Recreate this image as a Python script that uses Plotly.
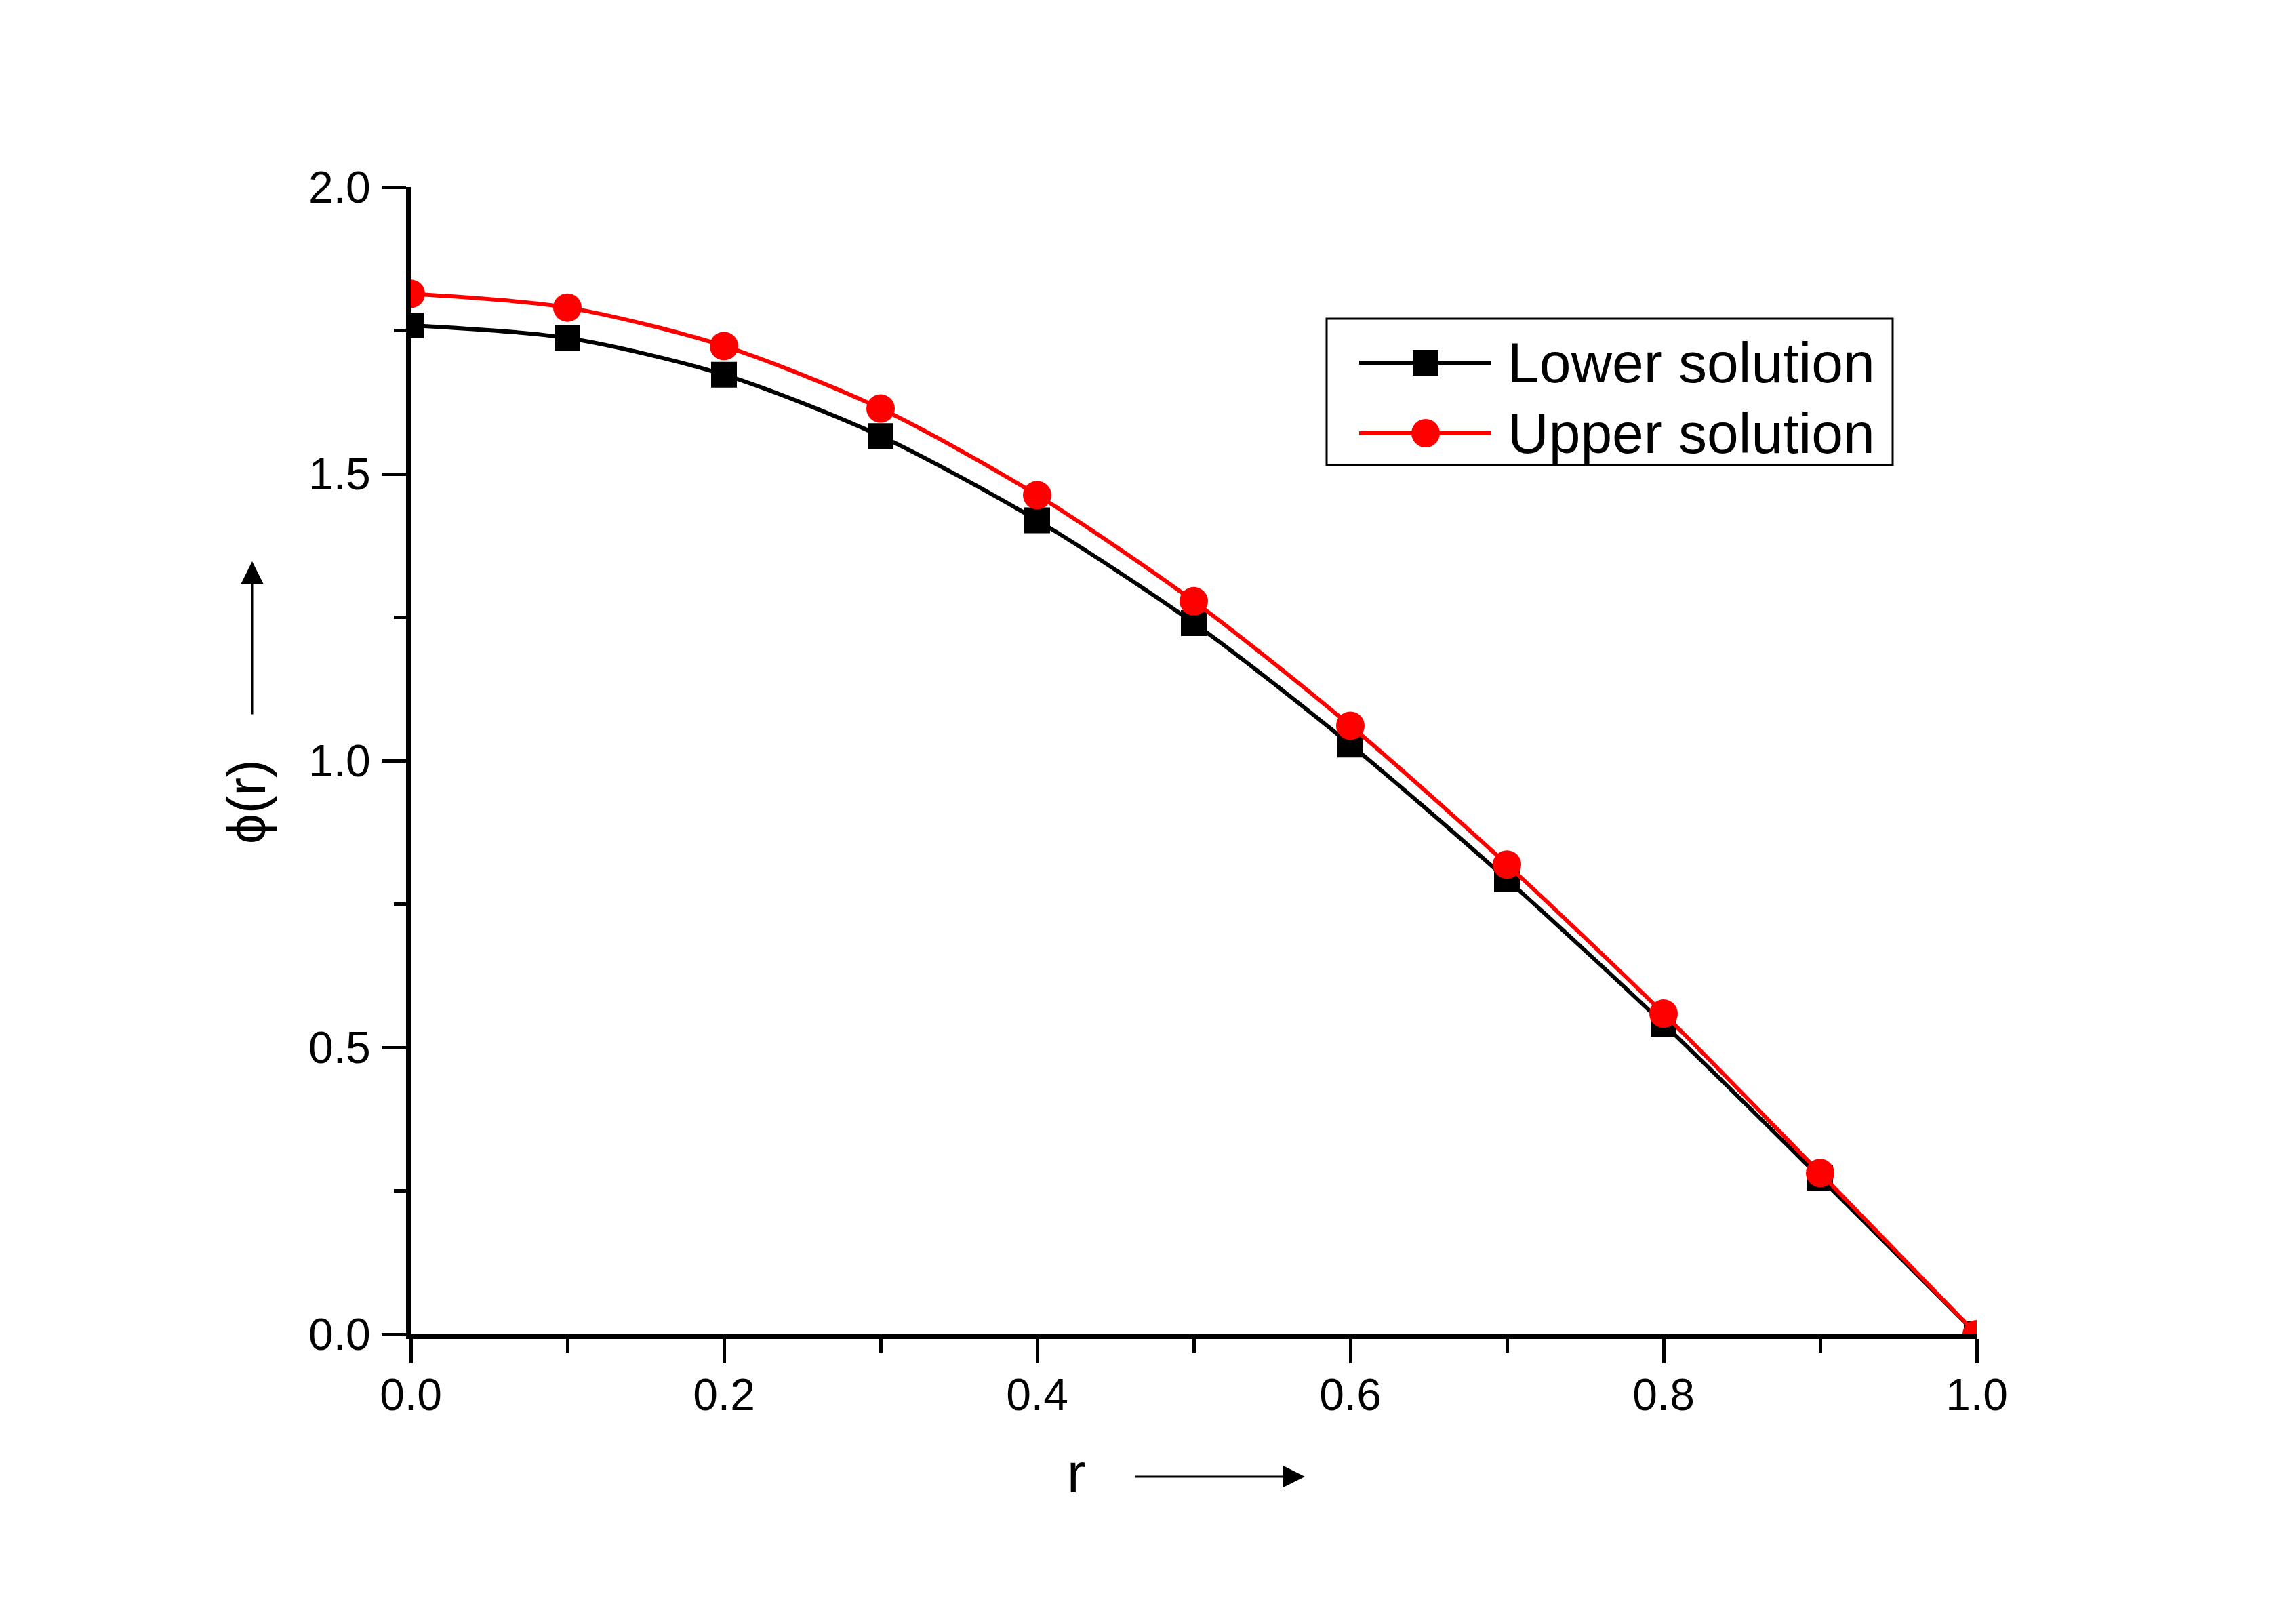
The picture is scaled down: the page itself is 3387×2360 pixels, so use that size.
import plotly.graph_objects as go

# values
r = [0.0, 0.1, 0.2, 0.3, 0.4, 0.5, 0.6, 0.7, 0.8, 0.9, 1.0]
lower = [1.759, 1.737, 1.673, 1.566, 1.419, 1.240, 1.028, 0.793, 0.541, 0.273, 0.0]
upper = [1.814, 1.790, 1.723, 1.614, 1.463, 1.278, 1.061, 0.819, 0.559, 0.281, 0.0]
names = ["Lower solution", "Upper solution"]
colors = ["black", "red"]
symbols = ["square", "circle"]

W, H = 3387, 2360
PAGE = 8  # default body margin of the html page
L, R, T, B = 606 - PAGE, 471 + PAGE, 276 - PAGE, 392 + PAGE
pw, ph = W - L - R, H - T - B


# helpers: page pixel -> paper fraction
def px(x):
    return (x - PAGE - L) / pw


def py(y):
    return (H - B - (y - PAGE)) / ph


FONT = "Liberation Sans, Arial, sans-serif"

fig = go.Figure()
for ys, name, c, s, ms in zip([lower, upper], names, colors, symbols, [38, 42]):
    fig.add_trace(go.Scatter(
        x=r, y=ys, name=name, mode="lines+markers",
        line=dict(color=c, width=6, shape="spline", smoothing=0.8),
        marker=dict(color=c, size=ms, symbol=s),
        showlegend=False,
    ))

axis_common = dict(
    showline=True, linecolor="black", linewidth=7,
    ticks="outside", ticklen=36, tickwidth=5, tickcolor="black",
    showgrid=False, zeroline=False,
    tickfont=dict(family=FONT, size=66, color="black"),
)
fig.update_xaxes(range=[0, 1], dtick=0.2, tickformat=".1f", ticklabelstandoff=-10,
                 minor=dict(dtick=0.1, ticklen=20, tickwidth=5, tickcolor="black", ticks="outside"),
                 **axis_common)
fig.update_yaxes(range=[0, 2], dtick=0.5, tickformat=".1f", ticklabelstandoff=3,
                 minor=dict(dtick=0.25, ticklen=18, tickwidth=5, tickcolor="black", ticks="outside"),
                 **axis_common)

shapes = []
annotations = []

# legend box drawn by hand so the symbols keep their real size
shapes.append(dict(type="rect", xref="paper", yref="paper",
                   x0=px(1957), x1=px(2792), y0=py(686), y1=py(470),
                   line=dict(color="black", width=3), fillcolor="white", layer="above"))
for name, c, s, ms, row_y in zip(names, colors, symbols, [38, 42], [535, 639]):
    yy = py(row_y)
    shapes.append(dict(type="line", xref="paper", yref="paper",
                       x0=px(2005), x1=px(2200), y0=yy, y1=yy,
                       line=dict(color=c, width=6), layer="above"))
    shapes.append(dict(type="rect" if s == "square" else "circle",
                       xref="paper", yref="paper", xsizemode="pixel", ysizemode="pixel",
                       xanchor=px(2103), yanchor=yy,
                       x0=-ms / 2, x1=ms / 2, y0=-ms / 2, y1=ms / 2,
                       line=dict(width=0), fillcolor=c, layer="above"))
    annotations.append(dict(text=name, xref="paper", yref="paper", x=px(2222), y=yy,
                            xanchor="left", yanchor="middle", showarrow=False,
                            font=dict(family=FONT, size=84, color="black")))

# axis titles with arrows
annotations.append(dict(text="r", xref="paper", yref="paper", x=px(1587), y=py(2172),
                        xanchor="center", yanchor="middle", showarrow=False,
                        font=dict(family=FONT, size=82, color="black")))
annotations.append(dict(text="", xref="paper", yref="paper", x=px(1925), y=py(2178),
                        ax=-252, ay=0, showarrow=True, arrowhead=2, arrowsize=2.2,
                        arrowwidth=3, arrowcolor="black"))
annotations.append(dict(text="ϕ(r)", xref="paper", yref="paper", x=px(363), y=py(1183),
                        xanchor="center", yanchor="middle", textangle=-90, showarrow=False,
                        font=dict(family=FONT, size=80, color="black")))
annotations.append(dict(text="", xref="paper", yref="paper", x=px(372), y=py(828),
                        ax=0, ay=227, showarrow=True, arrowhead=2, arrowsize=2.2,
                        arrowwidth=3, arrowcolor="black"))

fig.update_layout(
    width=W, height=H,
    margin=dict(l=L, r=R, t=T, b=B),
    plot_bgcolor="white", paper_bgcolor="white",
    shapes=shapes, annotations=annotations,
    showlegend=False,
)
fig.write_html("out.html")
